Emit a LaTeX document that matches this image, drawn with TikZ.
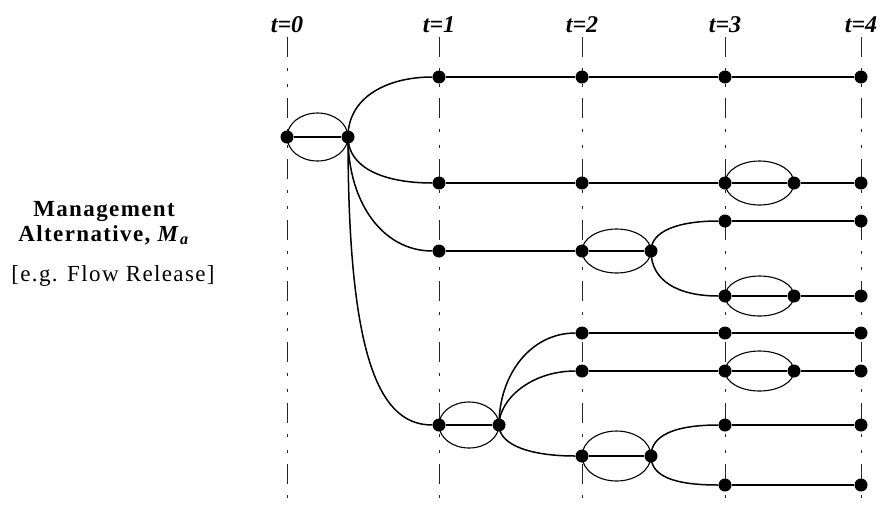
\documentclass[tikz,border=0pt]{standalone}
\usepackage{fontspec}
\setmainfont{Liberation Serif}
\newfontfamily\wideserif[LetterSpace=6]{Liberation Serif}
\usetikzlibrary{calc}
\begin{document}
\begin{tikzpicture}[x=1pt,y=1pt,
  dot/.style={circle,fill=black,inner sep=0pt,minimum size=13pt},
  branch/.style={line width=1.5pt},
  ring/.style={line width=1.1pt},
  timeline/.style={black!85,line width=1pt,dash pattern=on 20pt off 11pt on 3pt off 13pt on 3pt off 11pt},
  tlabel/.style={font=\fontsize{24}{26}\selectfont\bfseries\itshape,inner sep=1pt}]
\useasboundingbox (0,0) rectangle (882,-504);
\coordinate (bot) at (0,-504);
\node[tlabel] (t0) at (287,-25) {t=0};
\node[tlabel] (t1) at (439,-25) {t=1};
\node[tlabel] (t2) at (582,-25) {t=2};
\node[tlabel] (t3) at (725,-25) {t=3};
\node[tlabel] (t4) at (861,-25) {t=4};
\foreach \t in {t0,t1,t2,t3,t4}
  \draw[timeline] ([yshift=-3pt]\t.south) -- (\t.south |- bot);
\node[font=\wideserif\bfseries\fontsize{23}{25}\selectfont,align=center] (mgmt) at (104,-223)
  {Management\\Alternative, \textit{M}\textsubscript{\textit{a}}};
\node[font=\wideserif\fontsize{23}{26}\selectfont] (release) at (113,-276) {[e.g. Flow Release]};
\node[dot] (a0) at (287,-137) {};
\node[dot] (a1) at (348,-137) {};
\node[dot] (b1) at (439,-77) {};
\node[dot] (c1) at (582,-77) {};
\node[dot] (d1) at (725,-77) {};
\node[dot] (e1) at (861,-77) {};
\node[dot] (b2) at (439,-183) {};
\node[dot] (c2) at (582,-183) {};
\node[dot] (d2) at (725,-183) {};
\node[dot] (d2x) at (794,-183) {};
\node[dot] (e2) at (861,-183) {};
\node[dot] (d3) at (725,-221) {};
\node[dot] (e3) at (861,-221) {};
\node[dot] (b4) at (439,-251) {};
\node[dot] (c4) at (582,-251) {};
\node[dot] (c4x) at (651,-251) {};
\node[dot] (d5) at (725,-296) {};
\node[dot] (d5x) at (794,-296) {};
\node[dot] (e5) at (861,-296) {};
\node[dot] (c6) at (582,-333) {};
\node[dot] (d6) at (725,-333) {};
\node[dot] (e6) at (861,-333) {};
\node[dot] (c7) at (582,-371) {};
\node[dot] (d7) at (725,-371) {};
\node[dot] (d7x) at (794,-371) {};
\node[dot] (e7) at (861,-371) {};
\node[dot] (b8) at (439,-425) {};
\node[dot] (b8x) at (499,-425) {};
\node[dot] (d8) at (725,-425) {};
\node[dot] (e8) at (861,-425) {};
\node[dot] (c9) at (582,-456) {};
\node[dot] (c9x) at (651,-456) {};
\node[dot] (d10) at (725,-485) {};
\node[dot] (e10) at (861,-485) {};
\draw[branch] (a0) -- (a1);
\draw[branch] (b1) -- (c1) -- (d1) -- (e1);
\draw[branch] (b2) -- (c2) -- (d2) -- (d2x) -- (e2);
\draw[branch] (d3) -- (e3);
\draw[branch] (b4) -- (c4) -- (c4x);
\draw[branch] (d5) -- (d5x) -- (e5);
\draw[branch] (c6) -- (d6) -- (e6);
\draw[branch] (c7) -- (d7) -- (d7x) -- (e7);
\draw[branch] (b8) -- (b8x);
\draw[branch] (d8) -- (e8);
\draw[branch] (c9) -- (c9x);
\draw[branch] (d10) -- (e10);
\draw[branch] (a1.center) to[out=90,in=180,out distance=40pt,in distance=45pt] (b1);
\draw[branch] (a1.center) to[out=-90,in=180,out distance=30pt,in distance=50pt] (b2);
\draw[branch] (a1.center) to[out=-90,in=180,out distance=65pt,in distance=50pt] (b4);
\draw[branch] (a1.center) to[out=-90,in=180,out distance=230pt,in distance=50pt] (b8);
\draw[branch] (b8x.center) to[out=90,in=180,out distance=50pt,in distance=45pt] (c6);
\draw[branch] (b8x.center) to[out=90,in=180,out distance=25pt,in distance=45pt] (c7);
\draw[branch] (b8x.center) to[out=-90,in=180,out distance=20pt,in distance=45pt] (c9);
\draw[branch] (c4x.center) to[out=90,in=180,out distance=20pt,in distance=40pt] (d3);
\draw[branch] (c4x.center) to[out=-90,in=180,out distance=30pt,in distance=40pt] (d5);
\draw[branch] (c9x.center) to[out=90,in=180,out distance=20pt,in distance=45pt] (d8);
\draw[branch] (c9x.center) to[out=-90,in=180,out distance=20pt,in distance=45pt] (d10);
\draw[ring] ($(a0)!.5!(a1)$) ellipse (30.5pt and 24pt);
\draw[ring] ($(d2)!.5!(d2x)$) ellipse (34.5pt and 22pt);
\draw[ring] ($(c4)!.5!(c4x)$) ellipse (34.5pt and 22pt);
\draw[ring] ($(d5)!.5!(d5x)$) ellipse (34.5pt and 20pt);
\draw[ring] ($(d7)!.5!(d7x)$) ellipse (34.5pt and 20pt);
\draw[ring] ($(b8)!.5!(b8x)$) ellipse (30pt and 23pt);
\draw[ring] ($(c9)!.5!(c9x)$) ellipse (34.5pt and 25pt);
\end{tikzpicture}
\end{document}
